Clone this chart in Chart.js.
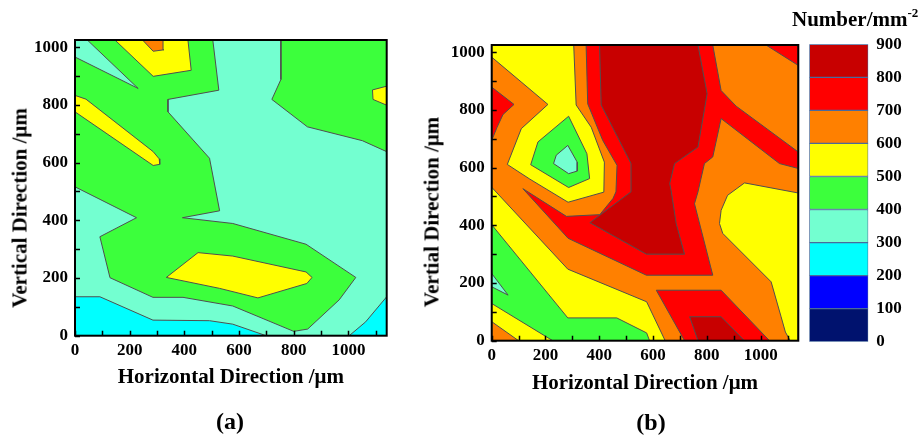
<!DOCTYPE html>
<html>
<head>
<meta charset="utf-8">
<script src="https://cdn.jsdelivr.net/npm/chart.js@4.4.0/dist/chart.umd.min.js"></script>
<style>
  body { margin: 0; background: #fff; }
  #wrap { position: relative; width: 922px; height: 436px; font-family: "Liberation Serif", "Times New Roman", serif; font-weight: bold; color: #000; }
  canvas { position: absolute; top: 0; }
  .lbl { position: absolute; white-space: nowrap; line-height: 1; }
  .rot { transform: translate(-50%, -50%) rotate(-90deg); font-size: 21px; }
  .cap { transform: translate(-50%, -50%); font-size: 24px; }
  #barTitle { left: 792px; top: 9px; font-size: 21px; }
  #barTitle sup { font-size: 13px; vertical-align: 9px; line-height: 0; }
</style>
</head>
<body>
<div id="wrap">
  <canvas id="chartA" width="410" height="436" style="left:0px"></canvas>
  <canvas id="chartB" width="390" height="436" style="left:420px"></canvas>
  <canvas id="chartBar" width="122" height="436" style="left:800px"></canvas>
  <div class="lbl rot" style="left:20px; top:208px">Vertical Direction /μm</div>
  <div class="lbl rot" style="left:432px; top:212px">Vertial Direction /μm</div>
  <div class="lbl cap" style="left:230px; top:421px">(a)</div>
  <div class="lbl cap" style="left:651px; top:422px">(b)</div>
  <div class="lbl" id="barTitle">Number/mm<sup>-2</sup></div>
</div>
<script>
// colour of each 100-wide band, 0-100 ... 800-900
const bandEdges = [0, 100, 200, 300, 400, 500, 600, 700, 800, 900];
const bandColors = ['#00126e', '#0000ff', '#00ffff', '#73ffd0', '#3cff3c', '#ffff00', '#ff8000', '#ff0000', '#c80000'];

const xMax = 1140;
const yMax = 1025;

// ---- panel (a) contour regions, [x, y] in µm ----
const aBase = [[0, 0], [0, 1025], [1140, 1025], [1140, 0]];
const aGreenMain = [[0, 1025], [504, 1025], [526, 851], [340, 819], [340, 776], [492, 615], [529, 433], [393, 409], [577, 389],
  [845, 317], [1027, 202], [966, 124], [851, 23], [800, 15], [577, 103], [395, 133], [285, 133], [128, 201], [91, 343], [225, 409], [0, 516]];
const aGreenRight = [[753, 1025], [753, 888], [720, 819], [850, 724], [1051, 676], [1140, 638], [1140, 1025]];
const aAquaCorner = [[0, 1025], [45, 1025], [231, 857], [0, 966]];
const aYellowTop = [[146, 1025], [286, 899], [425, 920], [413, 1025]];
const aOrangeTop = [[247, 1025], [286, 986], [325, 991], [322, 1025]];
const aYellowStripe = [[0, 833], [40, 820], [286, 638], [308, 613], [310, 594], [286, 590], [0, 776]];
const aYellowRight = [[1088, 852], [1140, 865], [1140, 799], [1090, 819]];
const aYellowMid = [[334, 202], [450, 288], [577, 276], [845, 221], [867, 202], [848, 181], [669, 131], [529, 164]];
const aCyanLeft = [[0, 0], [0, 135], [91, 135], [285, 54], [492, 52], [577, 40], [699, 0]];
const aCyanRight = [[1003, 0], [1063, 48], [1140, 135], [1140, 0]];

// ---- panel (b) contour regions ----
const bBase = [[0, 0], [0, 1025], [1140, 1025], [1140, 0]];
const bYellowTopLeft = [[0, 1025], [305, 1025], [314, 817], [370, 740], [419, 619], [417, 515], [284, 480], [142, 560], [58, 611],
  [110, 735], [209, 819], [0, 983]];
const bGreenPocket = [[286, 778], [354, 648], [364, 562], [286, 531], [145, 610], [172, 689]];
const bAquaPocket = [[283, 677], [318, 619], [318, 588], [286, 579], [230, 614], [240, 643]];
const bRedLeft = [[0, 879], [83, 819], [42, 784], [20, 740], [0, 694]];
const bRedCore = [[351, 1025], [822, 1025], [853, 867], [909, 813], [1140, 654], [1140, 597], [1070, 614], [853, 770], [822, 637],
  [791, 614], [767, 516], [754, 475], [822, 227], [575, 227], [284, 355], [116, 527], [278, 431], [402, 437], [451, 493],
  [462, 516], [466, 608], [413, 694], [357, 821]];
const bDarkCore = [[401, 1025], [767, 1025], [801, 856], [767, 671], [680, 614], [662, 545], [668, 516], [686, 406], [717, 300],
  [575, 300], [365, 409], [518, 516], [518, 614], [407, 817]];
const bRedCorner = [[1020, 1025], [1140, 1025], [1140, 954]];
const bRedLow = [[612, 175], [853, 175], [1033, 0], [717, 0]];
const bDarkLow = [[736, 83], [853, 83], [940, 0], [767, 0]];
const bYellowRight = [[940, 547], [1140, 512], [1140, 0], [1110, 0], [1092, 30], [1076, 83], [1039, 204], [859, 372], [847, 406],
  [853, 452], [877, 504]];
const bYellowLow = [[0, 532], [283, 248], [576, 135], [645, 0], [0, 0]];
const bGreenLow = [[0, 402], [283, 79], [465, 79], [576, 27], [587, 0], [227, 0], [0, 129]];
const bAquaLow = [[0, 233], [61, 158], [0, 187]];
const bOrangeCorner = [[0, 66], [100, 0], [0, 0]];

const panelA = [[aBase, 3], [aGreenMain, 4], [aGreenRight, 4], [aAquaCorner, 3], [aYellowTop, 5], [aOrangeTop, 6],
  [aYellowStripe, 5], [aYellowRight, 5], [aYellowMid, 5], [aCyanLeft, 2], [aCyanRight, 2]];
const panelB = [[bBase, 6], [bYellowTopLeft, 5], [bGreenPocket, 4], [bAquaPocket, 3], [bRedLeft, 7], [bRedCore, 7],
  [bDarkCore, 8], [bRedCorner, 7], [bRedLow, 7], [bDarkLow, 8], [bYellowRight, 5], [bYellowLow, 5], [bGreenLow, 4],
  [bAquaLow, 3], [bOrangeCorner, 6]];

const tickFont = { family: "'Liberation Serif', serif", size: 17, weight: 'bold' };
const titleFont = { family: "'Liberation Serif', serif", size: 21, weight: 'bold' };

function regionSets(layers) {
  return layers.map(([pts, band], i) => ({
    data: pts.concat([pts[0]]).map(p => ({ x: p[0], y: p[1] })),
    backgroundColor: bandColors[band],
    borderColor: '#4f4f4f',
    borderWidth: 1,
    fill: 'shape',
    pointRadius: 0,
    tension: 0,
    order: layers.length - i
  }));
}

// inward tick marks + black frame
const framePlugin = {
  id: 'frame',
  afterDatasetsDraw(chart) {
    const { ctx, chartArea: a, scales: { x, y } } = chart;
    ctx.save();
    ctx.strokeStyle = '#000';
    ctx.lineWidth = 1.5;
    ctx.beginPath();
    x.ticks.forEach(t => {
      const px = Math.round(x.getPixelForValue(t.value)) + 0.5;
      ctx.moveTo(px, a.bottom);
      ctx.lineTo(px, a.bottom - 5);
    });
    y.ticks.forEach(t => {
      const py = Math.round(y.getPixelForValue(t.value)) + 0.5;
      ctx.moveTo(a.left, py);
      ctx.lineTo(a.left + 5, py);
    });
    ctx.stroke();
    ctx.lineWidth = 2;
    ctx.strokeRect(a.left, a.top, a.right - a.left, a.bottom - a.top);
    ctx.restore();
  }
};

function panelOptions(pad, yWidth, xHeight) {
  const every200 = v => (v % 200 === 0 ? v : '');
  return {
    responsive: false,
    animation: false,
    devicePixelRatio: 1,
    layout: { padding: pad },
    plugins: { legend: { display: false }, tooltip: { enabled: false } },
    scales: {
      x: {
        type: 'linear', min: 0, max: xMax,
        ticks: { stepSize: 100, includeBounds: false, autoSkip: false, maxRotation: 0, padding: 5,
          color: '#000', font: tickFont, callback: every200 },
        grid: { display: false, drawTicks: false },
        border: { display: false },
        title: { display: true, text: 'Horizontal Direction /μm', color: '#000', font: titleFont, padding: 0 },
        afterFit(s) { s.height = xHeight; }
      },
      y: {
        type: 'linear', min: 0, max: yMax,
        ticks: { stepSize: 100, includeBounds: false, autoSkip: false, padding: 7,
          color: '#000', font: tickFont, callback: every200 },
        grid: { display: false, drawTicks: false },
        border: { display: false },
        afterFit(s) { s.width = yWidth; }
      }
    }
  };
}

new Chart(document.getElementById('chartA'), {
  type: 'line',
  data: { datasets: regionSets(panelA) },
  options: panelOptions({ top: 40, right: 23.3, bottom: 45.4, left: 0 }, 75, 54.9),
  plugins: [framePlugin]
});

new Chart(document.getElementById('chartB'), {
  type: 'line',
  data: { datasets: regionSets(panelB) },
  options: panelOptions({ top: 45, right: 11.7, bottom: 40.1, left: 0 }, 71.7, 55.2),
  plugins: [framePlugin]
});

// colour bar
new Chart(document.getElementById('chartBar'), {
  type: 'bar',
  data: {
    labels: [''],
    datasets: bandColors.map((c, i) => ({
      data: [[bandEdges[i], bandEdges[i + 1]]],
      backgroundColor: c,
      borderColor: '#4a6a9c',
      borderWidth: 1,
      borderSkipped: false,
      grouped: false,
      categoryPercentage: 1,
      barPercentage: 1
    }))
  },
  options: {
    responsive: false,
    animation: false,
    devicePixelRatio: 1,
    layout: { padding: { top: 44.3, bottom: 94.3, left: 9.3, right: 0 } },
    plugins: { legend: { display: false }, tooltip: { enabled: false } },
    scales: {
      x: { display: false },
      y: {
        position: 'right', min: 0, max: 900,
        ticks: { stepSize: 100, autoSkip: false, padding: 8, color: '#000', font: tickFont },
        grid: { display: false, drawTicks: false },
        border: { display: false },
        afterFit(s) { s.width = 53.7; }
      }
    }
  }
});
</script>
</body>
</html>
